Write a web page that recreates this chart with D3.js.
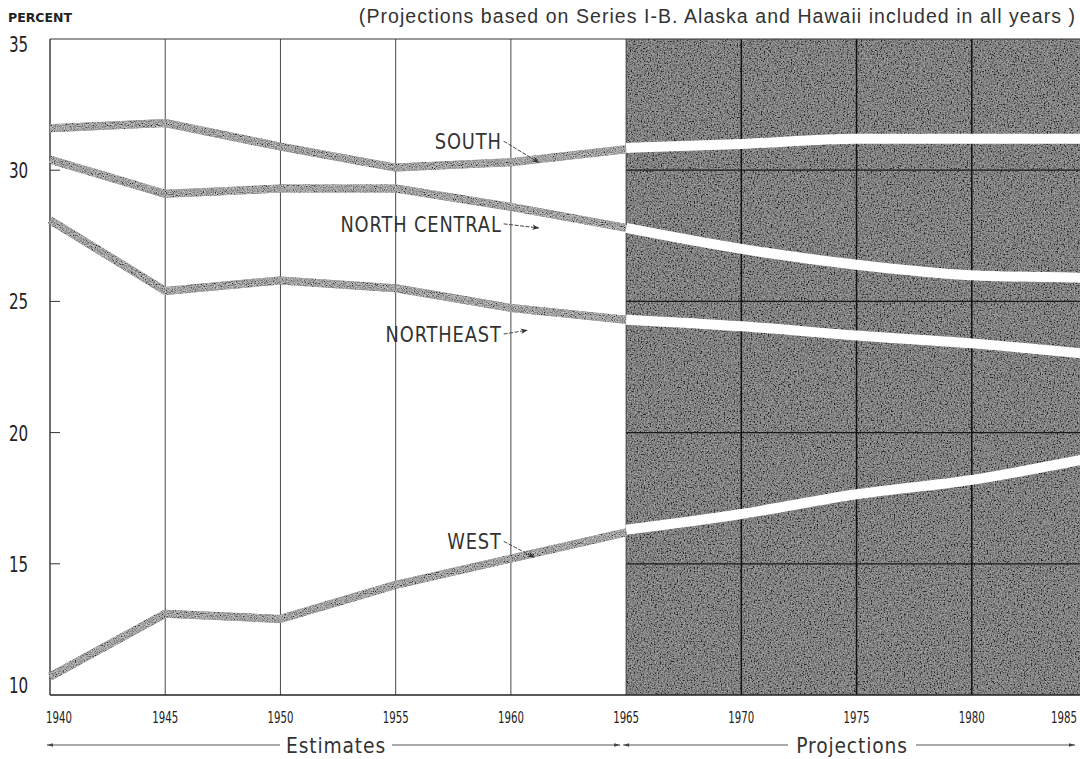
<!DOCTYPE html>
<html lang="en">
<head>
  <meta charset="UTF-8" />
  <title>Population by Region, 1940-1985</title>
  <script src="https://d3js.org/d3.v7.min.js"></script>
  <style>
    body { margin: 0; background: #fff; }
    svg { display: block; }
    .cond { font-family: 'DejaVu Sans', sans-serif; }
  </style>
</head>
<body>
  <svg></svg>

  <script>
    // estimates, 1940-1965
    const estYears = [1940, 1945, 1950, 1955, 1960, 1965];
    const southEst   = [31.6, 31.8, 30.9, 30.1, 30.3, 30.8];
    const ncEst      = [30.4, 29.1, 29.3, 29.3, 28.6, 27.8];
    const neEst      = [28.1, 25.4, 25.8, 25.5, 24.75, 24.3];
    const westEst    = [10.7, 13.1, 12.9, 14.2, 15.2, 16.2];

    // projections, 1965-1985
    const projYears = [1965, 1970, 1975, 1980, 1985];
    const southProj = [30.85, 31.0, 31.2, 31.2, 31.2];
    const ncProj    = [27.8, 27.0, 26.4, 26.0, 25.9];
    const neProj    = [24.3, 24.05, 23.7, 23.4, 23.0];
    const westProj  = [16.3, 16.9, 17.65, 18.2, 19.0];

    const yTicks = [10, 15, 20, 25, 30, 35];
    const xTicks = [1940, 1945, 1950, 1955, 1960, 1965, 1970, 1975, 1980, 1985];

    // label text, year/value where text ends, year/value where arrow points
    const labels = [
      { text: "SOUTH",         x: 1959.6, y: 30.8,  ax: 1961.2, ay: 30.3 },
      { text: "NORTH CENTRAL", x: 1959.6, y: 27.65, ax: 1961.2, ay: 27.8 },
      { text: "NORTHEAST",     x: 1959.6, y: 23.45, ax: 1960.7, ay: 23.9 },
      { text: "WEST",          x: 1959.6, y: 15.55, ax: 1961.0, ay: 15.25 }
    ];

    const W = 1080, H = 759;
    const svg = d3.select("svg").attr("width", W).attr("height", H);

    const x = d3.scaleLinear().domain([1940, 1985]).range([50, 1087]);
    const y = d3.scaleLinear().domain([10, 35]).range([695, 39]);

    const defs = svg.append("defs");
    const grain = defs.append("filter").attr("id", "grain")
      .attr("x", 0).attr("y", 0).attr("width", 1).attr("height", 1);
    grain.append("feTurbulence").attr("type", "fractalNoise")
      .attr("baseFrequency", 0.7).attr("numOctaves", 3).attr("seed", 3).attr("result", "n");
    grain.append("feColorMatrix").attr("in", "n").attr("type", "matrix")
      .attr("values", "2 0 0 0 -0.55  2 0 0 0 -0.55  2 0 0 0 -0.55  0 0 0 0 1");

    // speckle for the estimate bands
    const speck = defs.append("filter").attr("id", "speck")
      .attr("x", -0.05).attr("y", -0.2).attr("width", 1.1).attr("height", 1.4);
    speck.append("feTurbulence").attr("type", "fractalNoise")
      .attr("baseFrequency", 0.9).attr("numOctaves", 2).attr("seed", 7).attr("result", "n");
    speck.append("feColorMatrix").attr("in", "n").attr("type", "matrix")
      .attr("values", "2.2 0 0 0 -0.55  2.2 0 0 0 -0.55  2.2 0 0 0 -0.55  0 0 0 0 1").attr("result", "g");
    speck.append("feComposite").attr("in", "g").attr("in2", "SourceGraphic").attr("operator", "in");

    defs.append("marker").attr("id", "arr")
      .attr("viewBox", "0 0 10 10").attr("refX", 9).attr("refY", 5)
      .attr("markerWidth", 7).attr("markerHeight", 7).attr("orient", "auto")
      .append("path").attr("d", "M0,1 L10,5 L0,9 L3,5 Z").attr("fill", "#333");

    // shaded projection zone
    const shadeX = x(1965), shadeW = W - x(1965);
    svg.append("rect")
      .attr("x", shadeX).attr("y", y(35)).attr("width", shadeW).attr("height", y(10) - y(35))
      .attr("fill", "#4e4e4e");
    svg.append("rect")
      .attr("x", shadeX).attr("y", y(35)).attr("width", shadeW).attr("height", y(10) - y(35))
      .attr("filter", "url(#grain)").attr("opacity", 0.5);

    // horizontal grid inside the shaded zone
    svg.append("g").selectAll("line")
      .data([15, 20, 25, 30])
      .join("line")
      .attr("x1", shadeX).attr("x2", W)
      .attr("y1", d => y(d)).attr("y2", d => y(d))
      .attr("stroke", "#1a1a1a").attr("stroke-width", 1.2);

    // vertical grid
    svg.append("g").selectAll("line")
      .data(xTicks.slice(1))
      .join("line")
      .attr("x1", d => x(d)).attr("x2", d => x(d))
      .attr("y1", y(35)).attr("y2", y(10))
      .attr("stroke", d => d > 1965 ? "#111" : "#333")
      .attr("stroke-width", d => d > 1965 ? 1.5 : 0.9);

    // frame
    svg.append("line").attr("x1", x(1940)).attr("x2", W).attr("y1", y(35)).attr("y2", y(35))
      .attr("stroke", "#333").attr("stroke-width", 1);
    svg.append("line").attr("x1", x(1940)).attr("x2", W).attr("y1", y(10)).attr("y2", y(10))
      .attr("stroke", "#222").attr("stroke-width", 1.3);
    svg.append("line").attr("x1", x(1940)).attr("x2", x(1940)).attr("y1", y(35)).attr("y2", y(10))
      .attr("stroke", "#222").attr("stroke-width", 1.3);

    // left ticks + labels
    svg.append("g").selectAll("line")
      .data(yTicks.filter(d => d > 10 && d < 35))
      .join("line")
      .attr("x1", x(1940)).attr("x2", x(1940) + 10)
      .attr("y1", d => y(d)).attr("y2", d => y(d))
      .attr("stroke", "#333").attr("stroke-width", 1);

    svg.append("g").selectAll("text")
      .data(yTicks)
      .join("text")
      .attr("class", "cond")
      .attr("transform", d => {
        const ty = d === 35 ? y(d) + 13 : d === 10 ? y(d) - 2 : y(d) + 8;
        return `translate(9,${ty}) scale(0.72,1)`;
      })
      .attr("font-size", 21)
      .attr("fill", "#222")
      .text(d => d);

    // bottom year labels
    svg.append("g").selectAll("text")
      .data(xTicks)
      .join("text")
      .attr("class", "cond")
      .attr("transform", d => {
        const tx = d === 1940 ? x(d) - 4 : d === 1985 ? W - 3 : x(d);
        return `translate(${tx},723) scale(0.68,1)`;
      })
      .attr("text-anchor", d => d === 1940 ? "start" : d === 1985 ? "end" : "middle")
      .attr("font-size", 15)
      .attr("fill", "#222")
      .text(d => d);

    // lines
    const lineEst = d3.line().x(d => x(d[0])).y(d => y(d[1]));
    const lineProj = d3.line().x(d => x(d[0])).y(d => y(d[1])).curve(d3.curveMonotoneX);

    const estSeries = [southEst, ncEst, neEst, westEst];
    const projSeries = [southProj, ncProj, neProj, westProj];

    estSeries.forEach(vals => {
      const pts = estYears.map((yr, i) => [yr, vals[i]]);
      svg.append("path").attr("d", lineEst(pts))
        .attr("fill", "none").attr("stroke", "#707070").attr("stroke-width", 8)
        .attr("stroke-linejoin", "round");
      svg.append("path").attr("d", lineEst(pts))
        .attr("fill", "none").attr("stroke", "#000").attr("stroke-width", 8)
        .attr("stroke-linejoin", "round").attr("filter", "url(#speck)").attr("opacity", 0.6);
    });

    projSeries.forEach(vals => {
      const pts = projYears.map((yr, i) => [yr, vals[i]]);
      svg.append("path").attr("d", lineProj(pts))
        .attr("fill", "none").attr("stroke", "#fff").attr("stroke-width", 10);
    });

    // region labels
    labels.forEach(l => {
      svg.append("text").attr("class", "cond")
        .attr("transform", `translate(${x(l.x)},${y(l.y)}) scale(0.85,1)`)
        .attr("text-anchor", "end").attr("font-size", 21).attr("fill", "#333")
        .attr("letter-spacing", 1)
        .text(l.text);
      svg.append("line")
        .attr("x1", x(l.x) + 2).attr("y1", y(l.y) - 8)
        .attr("x2", x(l.ax)).attr("y2", y(l.ay))
        .attr("stroke", "#444").attr("stroke-width", 1).attr("stroke-dasharray", "4 1.5")
        .attr("marker-end", "url(#arr)");
    });

    // header
    svg.append("text").attr("x", 8).attr("y", 22)
      .attr("font-family", "'DejaVu Sans', sans-serif").attr("font-weight", "bold")
      .attr("font-size", 12.5).attr("fill", "#222").text("PERCENT");
    svg.append("text").attr("x", 1076).attr("y", 23).attr("text-anchor", "end")
      .attr("font-family", "'Liberation Sans', 'DejaVu Sans', sans-serif")
      .attr("font-size", 19.5).attr("letter-spacing", 1.05).attr("fill", "#333")
      .text("(Projections based on Series I-B.  Alaska and Hawaii included in all years )");

    // estimates / projections span markers
    const spanY = 745;
    const spans = [
      { text: "Estimates",   x0: 1940, x1: 1965, cx: 336, half: 56 },
      { text: "Projections", x0: 1965, x1: 1985, cx: 852, half: 64 }
    ];
    defs.append("marker").attr("id", "arrS")
      .attr("viewBox", "0 0 10 10").attr("refX", 10).attr("refY", 5)
      .attr("markerWidth", 9).attr("markerHeight", 6).attr("orient", "auto-start-reverse")
      .append("path").attr("d", "M0,2 L10,5 L0,8 Z").attr("fill", "#444");

    spans.forEach(s => {
      const left = Math.max(x(s.x0) - 3, 44), right = Math.min(x(s.x1) - 6, W - 5);
      svg.append("line").attr("x1", left).attr("x2", s.cx - s.half)
        .attr("y1", spanY).attr("y2", spanY)
        .attr("stroke", "#555").attr("stroke-width", 1)
        .attr("marker-start", "url(#arrS)");
      svg.append("line").attr("x1", s.cx + s.half).attr("x2", right)
        .attr("y1", spanY).attr("y2", spanY)
        .attr("stroke", "#555").attr("stroke-width", 1)
        .attr("marker-end", "url(#arrS)");
      svg.append("text").attr("class", "cond")
        .attr("transform", `translate(${s.cx},${spanY + 8}) scale(0.85,1)`)
        .attr("text-anchor", "middle")
        .attr("font-size", 22).attr("letter-spacing", 1).attr("fill", "#333")
        .text(s.text);
    });
  </script>
</body>
</html>
